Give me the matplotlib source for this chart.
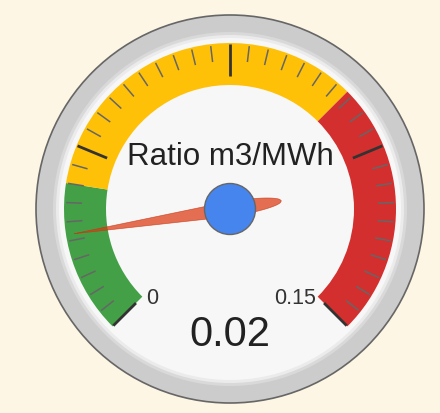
import numpy as np
import matplotlib.pyplot as plt
from matplotlib.patches import Circle, Wedge, Polygon

# gauge data
gauge_label = "Ratio m3/MWh"
gauge_min = 0
gauge_max = 0.15
gauge_value = 0.02
value_text = "0.02"
band_ranges = [(0, 0.03), (0.03, 0.1), (0.1, 0.15)]
band_colors = ["#43a047", "#ffc107", "#d32f2f"]
major_labels = ["0", "", "", "", "0.15"]
minor_ticks = 10

W, H = 440, 414
cx, cy = 230, 414 - 210

def ang(v):
    return 225 - 270 * (v - gauge_min) / (gauge_max - gauge_min)

def pt(r, a):
    t = np.radians(a)
    return cx + r * np.cos(t), cy + r * np.sin(t)

fig = plt.figure(figsize=(W / 100, H / 100), dpi=100)
fig.patch.set_facecolor("#fdf6e4")
ax = fig.add_axes([0, 0, 1, 1])
ax.set_xlim(0, W)
ax.set_ylim(0, H)
ax.set_aspect("equal")
ax.axis("off")

# bezel
ax.add_patch(Circle((cx, cy), 194, fc="#cccccc", ec="#666666", lw=1.2))
ax.add_patch(Circle((cx, cy), 177, fc="#d9d9d9", ec="none"))
ax.add_patch(Circle((cx, cy), 174, fc="#ebebeb", ec="none"))
ax.add_patch(Circle((cx, cy), 171, fc="#f7f7f7", ec="none"))

# colour bands
for (v1, v2), c in zip(band_ranges, band_colors):
    ax.add_patch(Wedge((cx, cy), 166, ang(v2), ang(v1), width=42, fc=c, ec="none"))

# ticks
n_major = len(major_labels)
n_div = (n_major - 1) * minor_ticks
for i in range(n_div + 1):
    v = gauge_min + (gauge_max - gauge_min) * i / n_div
    a = ang(v)
    if i % minor_ticks == 0:
        x0, y0 = pt(165, a)
        x1, y1 = pt(133, a)
        ax.plot([x0, x1], [y0, y1], color="#333333", lw=2, solid_capstyle="butt")
    else:
        x0, y0 = pt(164, a)
        x1, y1 = pt(148, a)
        ax.plot([x0, x1], [y0, y1], color="#666666", lw=1.1, solid_capstyle="butt")

# end labels
lx, ly = pt(124, ang(gauge_min))
ax.text(lx + 10, ly - 1, major_labels[0], ha="center", va="center",
        fontsize=15.5, color="#333333", family="Liberation Sans")
rx, ry = pt(124, ang(gauge_max))
ax.text(rx - 23, ry - 1, major_labels[-1], ha="center", va="center",
        fontsize=15.5, color="#333333", family="Liberation Sans")

# title
ax.text(cx, 414 - 157, gauge_label, ha="center", va="center",
        fontsize=22.5, color="#222222", family="Liberation Sans")

# needle
a = np.radians(ang(gauge_value))
L, tail, w0 = 158, 52, 7.5
s_front = np.linspace(0, L, 40)
s_back = np.linspace(-tail, 0, 40)
s = np.concatenate([s_back, s_front])
w = np.where(s >= 0, w0 * (1 - s / L), w0 * np.sqrt(np.clip(1 - (s / tail) ** 2, 0, 1)))
upper = np.column_stack([s, w])
lower = np.column_stack([s[::-1], -w[::-1]])
shape = np.vstack([upper, lower])
rot = np.array([[np.cos(a), -np.sin(a)], [np.sin(a), np.cos(a)]])
shape = shape @ rot.T + [cx, cy]
ax.add_patch(Polygon(shape, closed=True, fc="#dc3912", alpha=0.72, ec="#c63310", lw=0.5))

# hub
ax.add_patch(Circle((cx, cy), 25.5, fc="#4684ee", ec="#666666", lw=1))

# value
ax.text(cx, 414 - 335, value_text, ha="center", va="center",
        fontsize=30, color="#222222", family="Liberation Sans")

fig.savefig("out.png", dpi=100, facecolor=fig.get_facecolor())
